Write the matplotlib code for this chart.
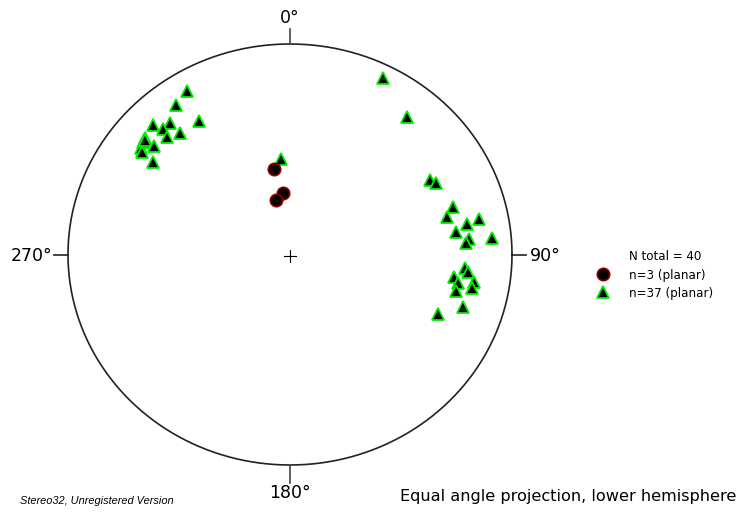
import matplotlib
matplotlib.use("Agg")
import matplotlib.pyplot as plt
import numpy as np

# Poles in normalized projection coordinates (unit circle: x east, y north)
tri_x = [-0.464, -0.514, -0.410, -0.617, -0.541, -0.572, -0.495, -0.554, -0.653,
         -0.613, -0.662, -0.671, -0.667, -0.617, -0.653,
         -0.041,
         0.419, 0.527,
         0.631, 0.658, 0.734, 0.707, 0.797, 0.851, 0.748, 0.806, 0.793, 0.910,
         0.788, 0.802, 0.739, 0.757, 0.829, 0.820, 0.748, 0.779, 0.667]
tri_y = [0.777, 0.710, 0.634, 0.615, 0.625, 0.596, 0.577, 0.558, 0.553,
         0.515, 0.534, 0.506, 0.487, 0.439, 0.544,
         0.454,
         0.838, 0.653,
         0.354, 0.340, 0.226, 0.178, 0.145, 0.169, 0.107, 0.074, 0.055, 0.078,
         -0.064, -0.083, -0.107, -0.135, -0.131, -0.159, -0.173, -0.249, -0.283]
circ_x = [-0.072, -0.032, -0.063]
circ_y = [0.406, 0.292, 0.259]

dir_labels = ["0°", "90°", "180°", "270°"]
legend_title = "N total = 40"
legend_labels = ["n=3 (planar)", "n=37 (planar)"]

W, H = 741, 516
fig = plt.figure(figsize=(W / 100, H / 100), dpi=100)

# overlay axes in pixel coordinates for texts
ov = fig.add_axes([0, 0, 1, 1])
ov.set_xlim(0, W)
ov.set_ylim(H, 0)
ov.axis("off")

# stereonet axes: unit circle mapped to pixel ellipse
left, right, top, bottom = 68, 512, 44, 465
ax = fig.add_axes([left / W, (H - bottom) / H, (right - left) / W, (bottom - top) / H])
ax.set_xlim(-1, 1)
ax.set_ylim(-1, 1)
ax.axis("off")

t = np.linspace(0, 2 * np.pi, 721)
ax.plot(np.cos(t), np.sin(t), color="#222222", lw=1.2, clip_on=False)

# ticks
tk = 0.07
ax.plot([0, 0], [1, 1 + tk], color="#444444", lw=1.2, clip_on=False)
ax.plot([0, 0], [-1, -1 - tk * 1.2], color="#444444", lw=1.2, clip_on=False)
ax.plot([1, 1 + tk * 0.9], [0, 0], color="#222222", lw=1.2, clip_on=False)
ax.plot([-1, -1 - tk * 0.9], [0, 0], color="#222222", lw=1.2, clip_on=False)
# center cross
c = 0.028
ax.plot([-c, c], [-0.007, -0.007], color="black", lw=0.8)
ax.plot([0, 0], [-0.007 - c * 1.05, -0.007 + c * 1.05], color="black", lw=0.8)

fs = 12.5
ov.text(290, 18, dir_labels[0], ha="center", va="center", fontsize=fs)
ov.text(530, 256, dir_labels[1], ha="left", va="center", fontsize=fs)
ov.text(290, 493, dir_labels[2], ha="center", va="center", fontsize=fs)
ov.text(52, 256, dir_labels[3], ha="right", va="center", fontsize=fs)

ax.plot(tri_x, tri_y, linestyle="none", marker="^", ms=8.2, mfc="black",
        mec="#00ee00", mew=1.3, clip_on=False)
ax.plot(circ_x, circ_y, linestyle="none", marker="o", ms=8.8, mfc="black",
        mec="#8b0000", mew=1.3, clip_on=False)

# legend
lfs = 8.6
ov.text(629, 257, legend_title, ha="left", va="center", fontsize=lfs)
ov.text(629, 275, legend_labels[0], ha="left", va="center", fontsize=lfs)
ov.text(629, 293, legend_labels[1], ha="left", va="center", fontsize=lfs)
ov.plot([603], [274], linestyle="none", marker="o", ms=8.8, mfc="black", mec="#8b0000", mew=1.3)
ov.plot([603], [292], linestyle="none", marker="^", ms=8.2, mfc="black", mec="#00ee00", mew=1.3)

ov.text(400, 496, "Equal angle projection, lower hemisphere", ha="left", va="center", fontsize=11.6)
ov.text(20, 501, "Stereo32, Unregistered Version", ha="left", va="center", fontsize=7.9,
        style="italic", family="Liberation Sans")

fig.savefig("out.png", dpi=100)
